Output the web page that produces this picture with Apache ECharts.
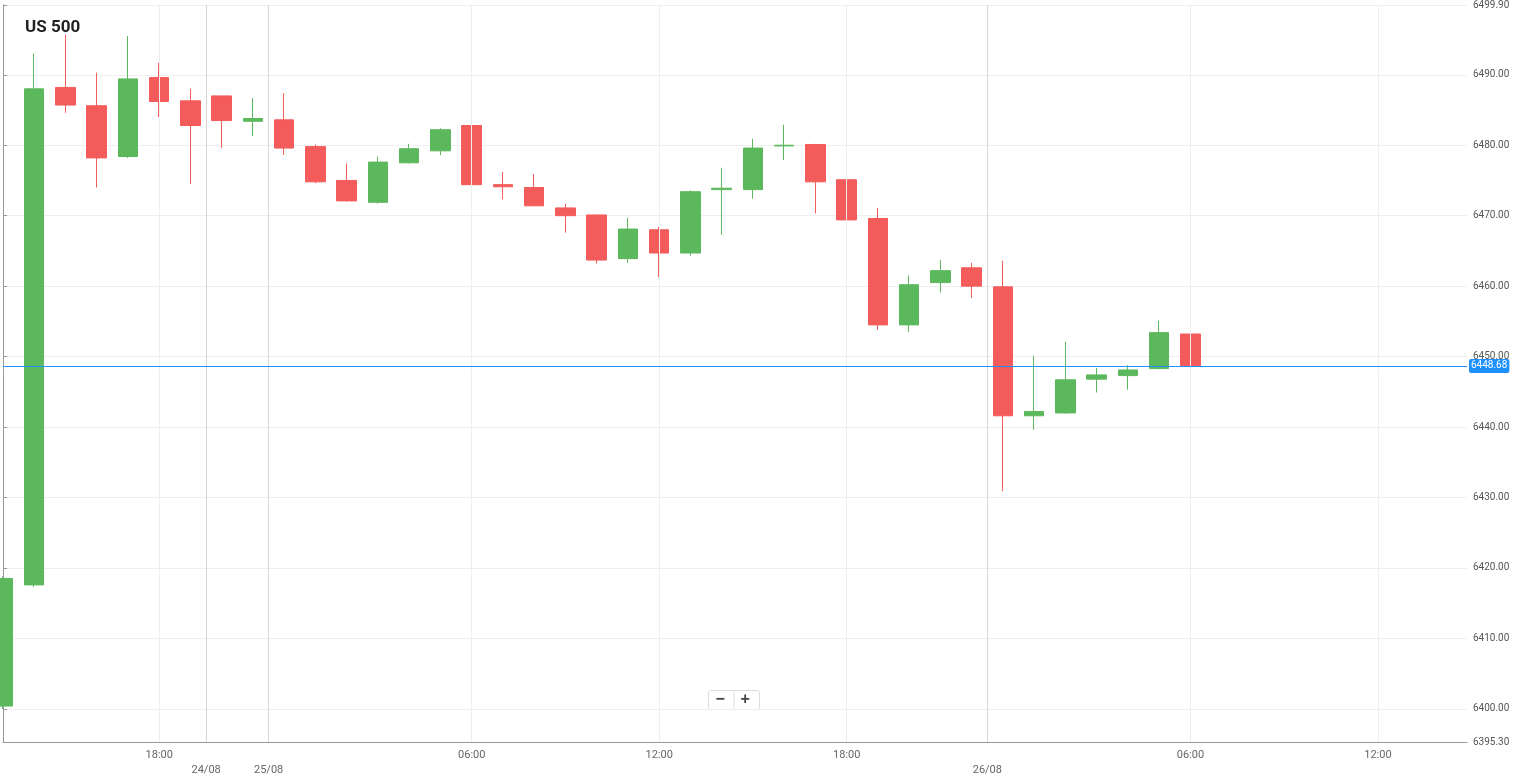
<!DOCTYPE html>
<html><head><meta charset="utf-8">
<script src="https://cdn.jsdelivr.net/npm/echarts@6/dist/echarts.min.js"></script>
<style>html,body{margin:0;padding:0;background:#fff}#c{width:1520px;height:783px}</style>
</head><body><div id="c"></div>
<script>
// candle index (hourly), open, close, low, high
const opens  = [6400.4,6488.0-70.4,6488.2,6485.6,6478.4,6489.6,6486.3,6487.0,6483.4,6483.6,6479.8,6475.0,6471.9,6477.5,6479.2,6482.8,6474.4,6474.0,6471.1,6470.1,6463.9,6468.0,6464.7,6473.7,6473.7,6479.9,6480.1,6475.1,6469.6,6454.5,6460.5,6462.6,6459.9,6441.6,6442.0,6446.8,6447.3,6448.3,6453.2];
const closes = [6418.5,6488.0,6485.7,6478.2,6489.4,6486.2,6482.8,6483.5,6483.8,6479.6,6474.8,6472.1,6477.6,6479.5,6482.2,6474.4,6474.1,6471.4,6470.0,6463.7,6468.1,6464.7,6473.4,6473.9,6479.6,6480.0,6474.8,6469.4,6454.5,6460.2,6462.2,6460.0,6441.6,6442.2,6446.7,6447.4,6448.1,6453.4,6448.68];
const lows   = [6400.0,6417.3,6484.6,6474.0,6478.2,6484.0,6474.5,6479.6,6481.3,6478.6,6474.6,6472.0,6471.7,6477.4,6478.6,6474.0,6472.3,6471.4,6467.6,6463.2,6463.3,6461.3,6464.3,6467.3,6472.4,6477.9,6470.3,6468.8,6453.8,6453.5,6459.1,6458.3,6430.9,6439.6,6441.9,6444.9,6445.3,6448.2,6445.9];
const highs  = [6418.8,6493.0,6495.7,6490.3,6495.5,6491.7,6488.0,6487.0,6486.7,6487.4,6480.1,6477.4,6478.4,6480.2,6482.4,6482.8,6476.2,6475.9,6471.7,6470.1,6469.7,6468.4,6473.6,6476.8,6480.9,6482.9,6480.2,6475.5,6471.1,6461.5,6463.7,6463.3,6463.6,6450.1,6452.1,6448.4,6448.8,6455.1,6454.7];
const hourLabels = {5:'18:00',15:'06:00',21:'12:00',27:'18:00',38:'06:00',44:'12:00'};
const dateLabels = {6.5:'24/08',8.5:'25/08',31.5:'26/08'};
const lastPrice = 6448.68;

const data = opens.map((o,i)=>[i,o,closes[i],lows[i],highs[i]]);
const vLines = Object.keys(hourLabels).map(k=>({xAxis:+k,lineStyle:{color:'#eeeeee'}}))
  .concat(Object.keys(dateLabels).map(k=>({xAxis:+k,lineStyle:{color:'#d6d6d6'}})));

const chart = echarts.init(document.getElementById('c'));
chart.setOption({
  animation:false,
  title:{text:'US 500',left:20,top:14,textStyle:{fontFamily:'Roboto',fontSize:17,fontWeight:'bold',color:'#222'}},
  grid:{left:0,right:53,top:4,bottom:41},
  xAxis:[{type:'value',min:0,max:46.85,interval:0.5,
    axisLine:{lineStyle:{color:'#999'}},axisTick:{show:false},splitLine:{show:false},
    axisLabel:{color:'#666',fontSize:11,fontFamily:'Roboto',showMinLabel:true,showMaxLabel:false,
      formatter:v=>hourLabels[v]||''}},
   {type:'value',position:'bottom',offset:15,min:0,max:46.85,interval:0.5,
    axisLine:{show:false},axisTick:{show:false},splitLine:{show:false},
    axisLabel:{color:'#666',fontSize:11,fontFamily:'Roboto',formatter:v=>dateLabels[v]||''}}],
  yAxis:{type:'value',position:'right',min:6395.3,max:6499.9,splitNumber:10,
    axisLine:{show:true,lineStyle:{color:'#999'}},axisTick:{show:true,length:4,lineStyle:{color:'#999'}},
    splitLine:{lineStyle:{color:'#efefef'}},
    axisLabel:{color:'#555',fontSize:10,fontFamily:'Roboto',margin:6,formatter:v=>v.toFixed(2)}},
  series:[{type:'candlestick',data:data,encode:{x:0,y:[1,2,3,4]},barWidth:20,
    itemStyle:{color:'#5cb85c',color0:'#f45b5b',borderColor:'#5cb85c',borderColor0:'#f45b5b',borderWidth:1},
    markLine:{symbol:'none',silent:true,label:{show:false},lineStyle:{type:'solid',width:1},
      data:vLines.concat([{yAxis:lastPrice,lineStyle:{color:'#1e90ff'},
        label:{show:true,position:'end',formatter:lastPrice.toFixed(2),color:'#fff',backgroundColor:'#1e90ff',
          padding:[2,2],fontSize:10,fontFamily:'Roboto',distance:2,borderRadius:2}}])}}],
  graphic:[{type:'group',left:708,top:688,children:[
    {type:'rect',shape:{x:0,y:0,width:51,height:19,r:2},style:{fill:'#fff',stroke:'#ddd'}},
    {type:'line',shape:{x1:25.5,y1:0,x2:25.5,y2:19},style:{stroke:'#ddd'}},
    {type:'text',x:7,y:1,style:{text:'−',fontSize:16,fontWeight:'bold',fill:'#444'}},
    {type:'text',x:32,y:1,style:{text:'+',fontSize:16,fontWeight:'bold',fill:'#444'}}]}]
});
</script></body></html>
